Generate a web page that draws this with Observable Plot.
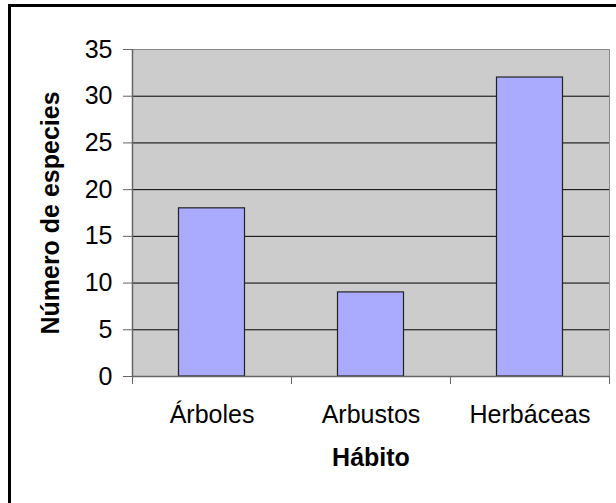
<!DOCTYPE html>
<html>
<head>
<meta charset="utf-8">
<script src="https://cdn.jsdelivr.net/npm/d3@7"></script>
<script src="https://cdn.jsdelivr.net/npm/@observablehq/plot@0.6"></script>
<style>
  html, body { margin: 0; padding: 0; background: #fff; }
  #wrap { position: relative; width: 616px; height: 503px; overflow: hidden; }
  #border { position: absolute; left: 8px; top: 4px; width: 700px; height: 600px; border: 3px solid #000; box-sizing: border-box; pointer-events: none; }
  #chart { position: absolute; left: 0; top: 0; }
</style>
</head>
<body>
<div id="wrap"><div id="chart"></div><div id="border"></div></div>
<script>
const categories = ["Árboles", "Arbustos", "Herbáceas"];
const values = [18, 9, 32];
const yTicks = [0, 5, 10, 15, 20, 25, 30, 35];
const xTitle = "Hábito";
const yTitle = "Número de especies";

const data = categories.map((c, i) => ({cat: c, i, value: values[i]}));
const font = "Liberation Sans, Arial, sans-serif";

const chart = Plot.plot({
  width: 616,
  height: 503,
  marginLeft: 132,
  marginRight: 7,
  marginTop: 49,
  marginBottom: 127,
  style: {fontFamily: font, fontSize: "25px", color: "black", background: "transparent"},
  x: {type: "linear", domain: [0, categories.length]},
  y: {domain: [0, 35]},
  marks: [
    Plot.frame({fill: "#cccccc"}),
    Plot.ruleY(yTicks.filter(v => v > 0 && v < 35), {stroke: "#000", strokeWidth: 1}),
    Plot.rectY(data, {x1: d => d.i, x2: d => d.i + 1, y: "value", insetLeft: 46.5, insetRight: 46.5, fill: "#aaaaff", stroke: "#222", strokeWidth: 1.2}),
    Plot.frame({stroke: "#888", strokeWidth: 1}),
    Plot.ruleX([0], {stroke: "#666", strokeWidth: 1.5}),
    Plot.ruleY([0], {stroke: "#666", strokeWidth: 1.5}),
    Plot.axisY({ticks: yTicks, tickSize: 9, tickPadding: 11, fontSize: 25, stroke: "#666", fill: "black", label: null}),
    Plot.axisX({ticks: [0, 1, 2, 3], tickFormat: () => "", tickSize: 8, stroke: "#666", label: null}),
    Plot.axisX({ticks: categories.map((c, i) => i + 0.5), tickFormat: v => categories[Math.round(v - 0.5)], tickSize: 0, tickPadding: 29, fontSize: 25, fill: "black", label: null}),
    Plot.text([xTitle], {frameAnchor: "bottom", lineAnchor: "top", dy: 72, fontSize: 25, fontWeight: "bold", fill: "black"}),
    Plot.text([yTitle], {frameAnchor: "left", textAnchor: "middle", rotate: -90, dx: -82, fontSize: 25, fontWeight: "bold", fill: "black"})
  ]
});
document.getElementById("chart").appendChild(chart);
</script>
</body>
</html>
